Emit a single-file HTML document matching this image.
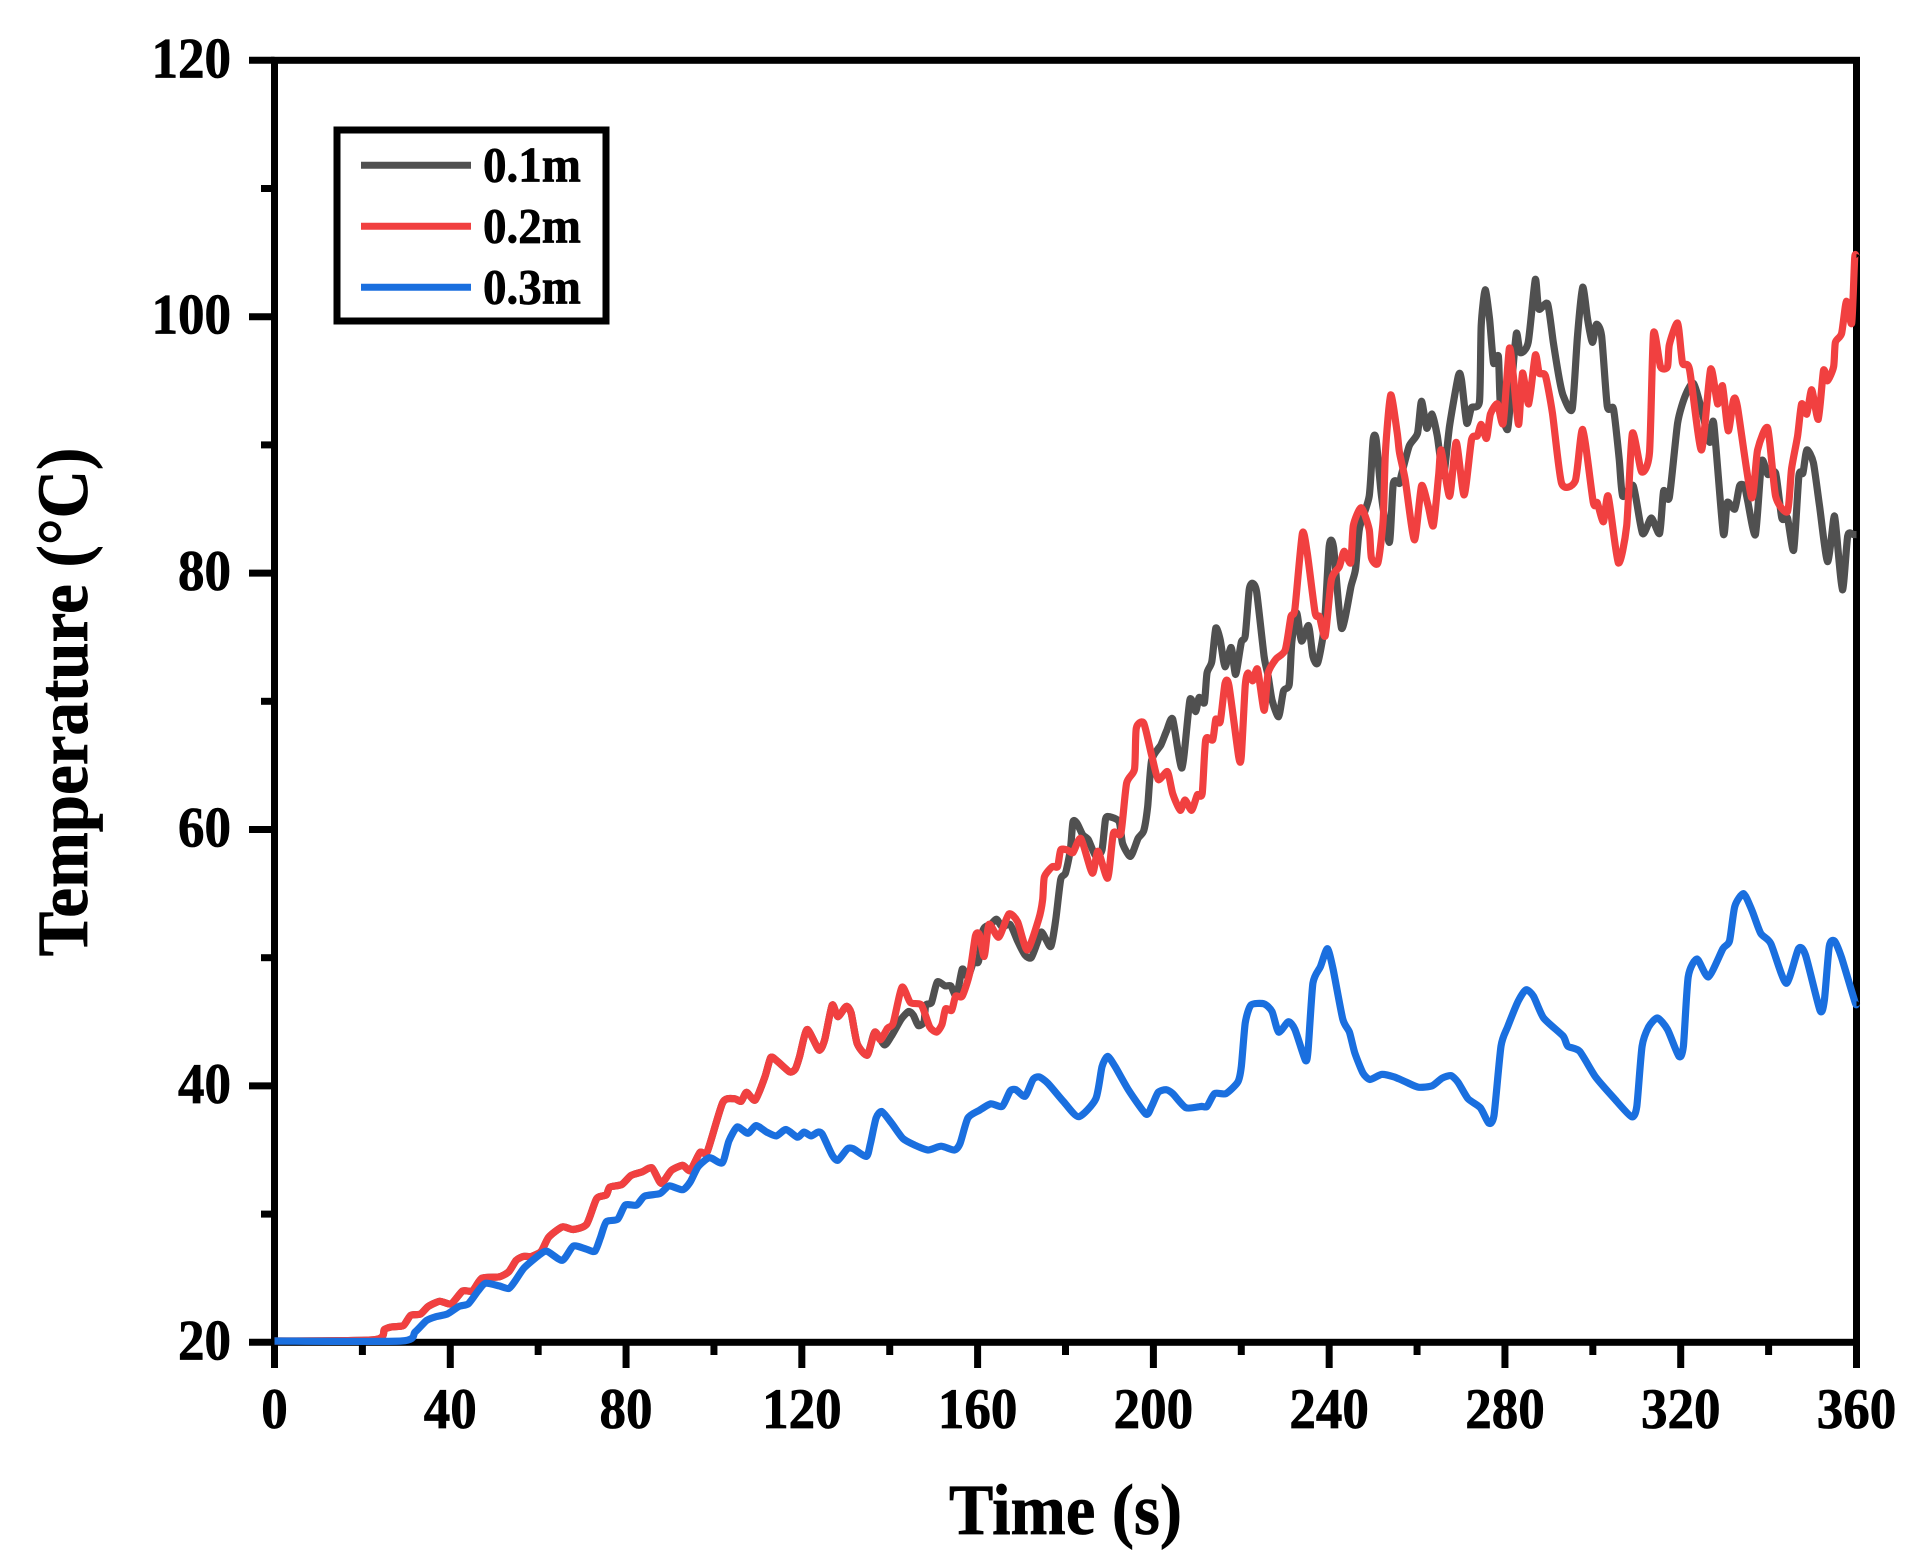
<!DOCTYPE html>
<html lang="en">
<head>
<meta charset="utf-8">
<title>Temperature vs Time</title>
<style>
html,body{margin:0;padding:0;background:#fff;width:1928px;height:1564px;overflow:hidden}
svg{display:block}
text{font-family:"Liberation Serif",serif;font-weight:bold;fill:#000;stroke:#000;stroke-width:0.7px}
</style>
</head>
<body>
<svg id="chart" width="1928" height="1564" viewBox="0 0 1928 1564" xmlns="http://www.w3.org/2000/svg">
  <rect x="0" y="0" width="1928" height="1564" fill="#fff"/>
  <g id="axes"></g>
  <g id="lines"></g>
  <text transform="translate(1065.5,1534) scale(1,1.08)" font-size="66.4" text-anchor="middle">Time (s)</text>
  <text transform="translate(87,702) rotate(-90) scale(1,1.07)" font-size="67" text-anchor="middle">Temperature (°C)</text>
  <g>
    <rect x="337" y="130" width="269" height="191" fill="#fff" stroke="#000" stroke-width="7"/>
    <line x1="361" x2="471" y1="165.3" y2="165.3" stroke="#505050" stroke-width="7"/>
    <line x1="361" x2="471" y1="226.3" y2="226.3" stroke="#f14040" stroke-width="7"/>
    <line x1="361" x2="471" y1="287.3" y2="287.3" stroke="#1a6fdf" stroke-width="7"/>
    <text transform="translate(483,181.5) scale(1,1.06)" font-size="47">0.1m</text>
    <text transform="translate(483,242.5) scale(1,1.06)" font-size="47">0.2m</text>
    <text transform="translate(483,303.5) scale(1,1.06)" font-size="47">0.3m</text>
  </g>
</svg>
<script>
const xTickLabels = [0,40,80,120,160,200,240,280,320,360];
const xMinorTicks = [20,60,100,140,180,220,260,300,340];
const yTickLabels = [20,40,60,80,100,120];
const yMinorTicks = [30,50,70,90,110];

const times01 = [0,22.8,25,26.7,29.3,31,33.2,35,37.6,40.2,42.8,45,47.2,51.1,53.3,55,56.7,58.5,60.7,62.4,65.5,68,71,73.3,75.5,76.3,79,81.1,83.7,85.9,88,90.3,92.9,94.6,96.8,98.5,102,104.6,106.2,107.4,109.4,111.6,112.9,114.2,117.2,118.5,119.5,121.2,123.9,125.2,126.9,128.2,130.1,131.2,132.6,134.9,136.6,138.8,140.4,142.6,144.3,145.4,146.5,147.8,148.2,149.5,150.8,152.6,153.9,155.2,156.5,157.8,159.1,160.2,161.3,163,164.3,165.6,167.4,169.1,170.8,172.2,173.5,174.5,175.6,176.7,177.8,178.9,180,181.1,181.7,182.6,183.9,185.2,186.9,188.3,189.1,190,192.2,193,194.8,196.5,197.8,198.7,199.6,201.7,203,204.4,206.5,208.3,209.6,210.4,211.6,212.2,213.3,214.2,215.2,216.3,217.7,218.7,220,220.9,221.8,222.6,223.5,225.2,226.1,227,228.5,229.6,230.9,231.5,232.6,233.7,235.3,236.3,237.4,238.9,240,241,242.8,245,246,246.9,249.1,250,250.7,251.9,253.7,254.6,256,256.4,258.2,260.1,261,262.2,263.4,264.6,266,267.4,269.4,270.1,271.3,272.4,274.2,274.6,275.5,276.5,277.4,278.5,279,280.6,281.5,282.6,283.5,285.3,286.9,287.7,289.7,291,292.4,293.3,295.3,296.5,297.7,298.8,299.9,300.8,302,303.3,304.7,306,306.8,309.2,311.3,313.3,315.2,316.1,317.4,319.3,321.1,322.9,324.7,326.6,327.5,329.7,330.6,332.3,333.4,334.5,335.2,337,338.4,339.8,341.6,343,344.3,345.7,346.9,347.8,348.7,350.2,351.6,353.4,354.8,355.2,356.8,358,359.3,360];
const values01 = [20.1,20.2,21,21.2,21.3,22.1,22.2,22.8,23.2,23,24,24,25,25.1,25.5,26.4,26.7,26.7,27.1,28.2,29,28.8,29.2,31.2,31.5,32.1,32.3,33,33.3,33.6,32.4,33.4,33.8,33.4,34.8,34.9,38.7,39,38.8,39.5,38.9,40.7,42.2,42,41.1,41.3,42.3,44.4,42.8,43.6,46.3,45.4,46.2,45.7,43.3,42.4,44.2,43.2,43.9,45.2,45.8,45.5,44.7,45,46.3,46.5,48.1,47.8,47.8,47,49.1,48.5,49.7,49.7,52.2,52.6,53,52.4,52.6,51.3,50.2,50,51.1,52,51.4,50.9,53,56.1,56.6,58.4,60.6,60.5,59.6,59.2,57.9,58.4,60.8,61,60.6,58.9,57.9,59.3,59.9,61.8,65.4,66.6,67.7,68.6,64.8,70.1,69.2,70.3,69.9,72.2,73.1,75.7,74.8,72.7,74.2,72.1,74.6,75.1,78.7,79.2,78.5,73.5,72,70.1,68.8,70.8,71.3,74.6,76.9,74.7,75.9,73.5,73,75.9,82.1,82,75.7,79,80.3,83.5,86,90.4,90.4,86,82.4,87,87,87.6,89.9,90.9,93.4,91.3,92.4,90.7,87.6,91.5,95.4,95.1,91.7,92.9,93.4,99.3,102.1,99.8,96.4,96.9,93,91.2,94.6,98.7,97.2,98,102.9,100.6,101,98,95.1,93.8,92.8,98.5,102.3,99.8,98,99.4,98.5,93,92.8,88.9,86,86.8,83.1,84.3,83.1,86.4,85.9,91.7,93.9,94.8,92.8,90.2,91.7,83.1,85.5,85,86.8,86.8,85.7,83,88.7,87.7,87.8,84.3,84.3,81.8,87.6,87.8,89.6,88.6,85.2,80.9,84.2,84,78.7,82.9,83,83];

const times02 = [0,22.8,25,26.7,29.3,31,33.2,35,37.6,40.2,42.8,45,47.2,51.1,53.3,55,56.7,58.5,60.7,62.4,65.5,68,71,73.3,75.5,76.3,79,81.1,83.7,85.9,88,90.3,92.9,94.6,96.8,98.5,102,104.6,106.2,107.4,109.4,111.6,112.9,114.2,117.2,118.5,119.5,121.2,123.9,125.2,126.9,128.2,130.1,131.2,132.6,134.9,136.6,137.9,139.5,140.8,142.8,144.7,147.2,149.1,150.7,151.9,152.7,154.1,155,156.5,158.2,159.5,160.4,161.5,162.6,164.8,167.1,169.1,171.3,173.9,174.8,175.2,177,178.2,178.9,180.4,181.7,183.5,186.1,187.4,189.6,190.9,192.6,193.9,195.7,196.1,197.8,199.6,201.1,203.2,204.4,206.1,207.2,208.7,210,211.1,211.9,213.5,214.2,215.2,216.3,217.2,219.4,220,220.9,221.5,222.6,223.7,225.2,226.1,227.9,230,231.3,232.2,233.9,235,236.8,237.8,239.1,240.5,242.3,243.4,244.9,245.5,247.3,249.1,249.6,251.1,252.3,252.8,254,255.5,256,257.3,259.4,261,262.5,263.7,264.9,265.5,267.4,268.9,270.7,272.4,273.7,274.6,275.8,276.7,278.3,279.6,281,281.9,283.1,284,285.4,286.9,287.8,289.2,290.8,292.9,296,297.7,300.1,301,302.4,303.5,305.8,307.7,309,311.1,312.9,313.8,315.4,317,317.4,319.3,320.4,322,324.7,326.8,328.4,329.5,330.8,332,332.9,336.1,337.5,339.8,341.6,344.3,345.2,346.6,347.5,348.7,349.8,351.3,352.5,353.4,354.8,355.2,356.6,357.7,358.9,359.6,360];
const values02 = [20.1,20.2,21,21.2,21.3,22.1,22.2,22.8,23.2,23,24,24,25,25.1,25.5,26.4,26.7,26.7,27.1,28.2,29,28.8,29.2,31.2,31.5,32.1,32.3,33,33.3,33.6,32.4,33.4,33.8,33.4,34.8,34.9,38.7,39,38.8,39.5,38.9,40.7,42.2,42,41.1,41.3,42.3,44.4,42.8,43.6,46.3,45.4,46.2,45.7,43.3,42.4,44.2,43.6,44.5,44.9,47.7,46.5,46.3,44.6,44.2,44.8,46,45.9,47,47,48.8,51.7,51.8,50.1,52.6,51.6,53.4,52.8,50.6,53,54.5,56.3,57.1,57.1,58.4,58.4,58.2,59.3,56.6,58.3,56.2,59.7,59.7,63.6,64.7,67.9,68.3,65.8,63.9,64.5,62.8,61.5,62.3,61.5,62.7,62.8,67,67,68.6,68.4,71.4,71.2,65.7,65.7,71.2,72.2,71.6,72.5,69.3,72.2,73.3,74,76.6,77.2,83.1,81.6,76.9,76.6,75.1,79.5,80.5,81.7,80.8,83.7,85.1,83.4,81.2,80.8,84.2,89.4,93.9,90.9,89.4,87.3,82.6,86.8,85.3,83.7,87.6,89.6,86,90.2,86.1,90.4,90.7,91.6,90.5,92.4,93.2,91.7,97.5,95.4,91.6,95.6,93.2,97,95.6,95.4,92.5,87,87.2,91.2,85.5,85.5,84,86,80.8,83.7,90.9,87.9,89.4,98.7,96.1,96.1,97.8,99.5,96.4,95.9,89.6,95.9,93.2,94.6,91.1,93.5,93,85.9,89.6,91.3,86,84.8,88.1,90.7,93.2,92.4,94.3,92,95.8,95,96.1,98,98.7,101.2,99.5,104.6,104.6];

const times03 = [0,28.9,32,34.6,36.7,39.3,42,44.1,46.3,48,51.1,53.3,54.6,56.8,60.2,62,65.5,68,70.7,72.9,74.2,75.5,78.1,79.8,82.4,84.2,87.7,89.8,92.9,94.6,96.4,99,101.9,103.4,105.3,107.7,109.6,112,114.2,116.4,119,120.5,122.1,123.7,124.7,126.9,128.2,130.4,131.7,134.7,135.6,136.9,138.2,140.4,143,145.6,148.7,151.7,154.7,156,157.8,160.4,163,165.6,167.4,168.7,170.8,172.6,174,176,179.5,183,186.9,188.3,189.6,191.3,194.3,198.3,199.6,201.1,202.9,204.4,207.4,210.9,212.2,213.9,216.5,219.2,220,220.9,222.2,225.2,227,228.5,230.7,232.2,234.6,235.2,236.3,238,239.6,240.9,243.1,244.6,245.8,247.7,249.3,252,254.8,257.5,260.3,263.4,265.7,267.7,269.3,271.6,274.4,276.3,277.5,279.1,280.6,283,284.8,286.5,288.8,293.2,294.3,297,300.6,304.9,308.8,310,311.2,312.7,314.7,317,319.6,320.6,321.7,323.7,326.3,329.6,331.1,332.3,334.3,336.2,338.2,340.5,344,346.8,348.4,351.7,352.7,353.8,355,356.6,359.7,360];
const values03 = [20.1,20.1,20.8,21.7,22,22.2,22.8,23,24,24.6,24.4,24.2,24.7,25.8,26.8,27.1,26.4,27.5,27.3,27.1,28.2,29.4,29.6,30.7,30.7,31.4,31.6,32.2,31.9,32.5,33.7,34.4,34,35.7,36.8,36.3,36.9,36.4,36.1,36.6,36,36.4,36.1,36.4,36.2,34.6,34.2,35.1,35.1,34.5,35.5,37.5,38,37.1,35.9,35.4,35,35.3,35,35.5,37.5,38.1,38.6,38.4,39.6,39.7,39.2,40.5,40.7,40.2,38.8,37.6,39,41.5,42.3,41.5,39.7,37.8,38.4,39.5,39.7,39.4,38.3,38.4,38.4,39.4,39.4,40.3,41.5,44.9,46.3,46.4,45.8,44.2,45,44.4,42,42.8,48,49.3,50.7,49.1,45.2,44.2,42.6,41,40.5,40.9,40.7,40.3,39.9,40,40.6,40.8,40.3,39,38.3,37.1,37.7,43.1,44.6,46.6,47.5,47,45.3,43.9,43.1,42.7,40.7,39,37.6,38.4,43.1,44.6,45.3,44.4,42.3,43.1,48.5,49.9,48.5,50.7,51.3,54,55,53.7,51.9,51.1,48,50.7,50.2,45.9,46.7,50.9,51.3,50,46.5,46.5];

const seriesNames = ['0.1m','0.2m','0.3m'];
const seriesColors = ['#505050','#f14040','#1a6fdf'];

const plotLeft = 274.5, plotRight = 1856.5, plotTop = 60.3, plotBottom = 1342.3;
function xScale(t){ return plotLeft + (t - 0) / 360 * (plotRight - plotLeft); }
function yScale(v){ return plotBottom - (v - 20) / 100 * (plotBottom - plotTop); }

const NS = 'http://www.w3.org/2000/svg';
const axes = document.getElementById('axes');
const linesGroup = document.getElementById('lines');

function makeLine(x1,y1,x2,y2,w){
  const l = document.createElementNS(NS,'line');
  l.setAttribute('x1',x1); l.setAttribute('y1',y1);
  l.setAttribute('x2',x2); l.setAttribute('y2',y2);
  l.setAttribute('stroke','#000'); l.setAttribute('stroke-width',w);
  return l;
}
function makeText(x,y,size,anchor,str){
  const t = document.createElementNS(NS,'text');
  t.setAttribute('transform','translate('+x+','+y+') scale(1,1.07)');
  t.setAttribute('font-size',size); t.setAttribute('text-anchor',anchor);
  t.textContent = str;
  return t;
}
function smoothPath(xs,ys){
  const k = 0.11;
  let d = 'M'+xs[0].toFixed(1)+' '+ys[0].toFixed(1);
  for(let i=0;i<xs.length-1;i++){
    const a = Math.max(i-1,0), b = Math.min(i+2,xs.length-1);
    const c1x = xs[i]+(xs[i+1]-xs[a])*k, c1y = ys[i]+(ys[i+1]-ys[a])*k;
    const c2x = xs[i+1]-(xs[b]-xs[i])*k, c2y = ys[i+1]-(ys[b]-ys[i])*k;
    d += 'C'+c1x.toFixed(1)+' '+c1y.toFixed(1)+' '+c2x.toFixed(1)+' '+c2y.toFixed(1)+' '+xs[i+1].toFixed(1)+' '+ys[i+1].toFixed(1);
  }
  return d;
}

const frame = document.createElementNS(NS,'rect');
frame.setAttribute('x',plotLeft);
frame.setAttribute('y',plotTop);
frame.setAttribute('width',plotRight-plotLeft);
frame.setAttribute('height',plotBottom-plotTop);
frame.setAttribute('fill','none');
frame.setAttribute('stroke','#000');
frame.setAttribute('stroke-width','7');


axes.appendChild(frame);

xTickLabels.forEach(function(t){
  const tick = makeLine(xScale(t),plotBottom,xScale(t),1368,7);
  
  
  axes.appendChild(tick);
  const label = makeText(xScale(t),1428,53,'middle',String(t));
  
  
  axes.appendChild(label);
});
xMinorTicks.forEach(function(t){
  const tick = makeLine(xScale(t),plotBottom,xScale(t),1355,7);
  
  
  axes.appendChild(tick);
});
yTickLabels.forEach(function(v){
  const tick = makeLine(249,yScale(v),plotLeft,yScale(v),7);
  
  
  axes.appendChild(tick);
  const label = makeText(231,yScale(v)+17,53,'end',String(v));
  
  
  axes.appendChild(label);
});
yMinorTicks.forEach(function(v){
  const tick = makeLine(261,yScale(v),plotLeft,yScale(v),7);
  
  
  axes.appendChild(tick);
});

const seriesTimes = [times01,times02,times03];
const seriesValues = [values01,values02,values03];
seriesNames.forEach(function(name,i){
  const xs = seriesTimes[i].map(xScale);
  const ys = seriesValues[i].map(yScale);
  const path = document.createElementNS(NS,'path');
  path.setAttribute('d',smoothPath(xs,ys));
  path.setAttribute('fill','none');
  path.setAttribute('stroke',seriesColors[i]);
  path.setAttribute('stroke-width','7.2');
  path.setAttribute('stroke-linejoin','round');
  
  
  linesGroup.appendChild(path);
});
</script>
</body>
</html>
